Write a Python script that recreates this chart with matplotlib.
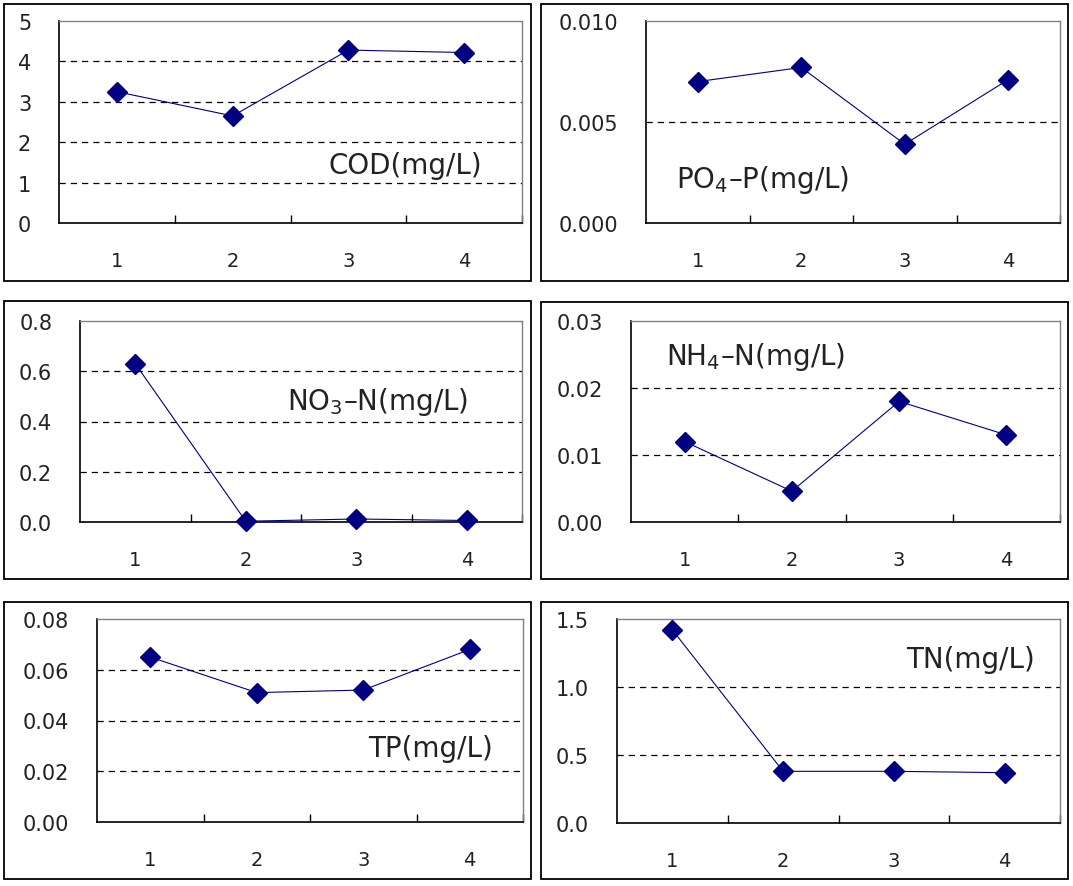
import matplotlib.pyplot as plt
from matplotlib.patches import Rectangle

plt.rcParams['font.family'] = ['DejaVu Sans']

# sampling stations
stations = [1, 2, 3, 4]

cod = [3.25, 2.65, 4.28, 4.22]
po4_p = [0.0070, 0.0077, 0.0039, 0.0071]
no3_n = [0.63, 0.003, 0.012, 0.006]
nh4_n = [0.012, 0.0046, 0.018, 0.013]
tp = [0.065, 0.051, 0.052, 0.068]
tn = [1.42, 0.38, 0.38, 0.37]

labels = ['COD(mg/L)', 'PO$_4$\u2013P(mg/L)', 'NO$_3$\u2013N(mg/L)',
          'NH$_4$\u2013N(mg/L)', 'TP(mg/L)', 'TN(mg/L)']

W, H = 1073, 887
fig = plt.figure(figsize=(W / 100, H / 100), dpi=100)


def px_rect(x0, y0, x1, y1):
    # pixel box (top-left origin) -> figure fraction [l, b, w, h]
    return [x0 / W, 1 - y1 / H, (x1 - x0) / W, (y1 - y0) / H]


def panel(frame, box, values, ymax, yticks, fmt, label, lpos):
    l, b, w, h = px_rect(*frame)
    fig.patches.append(Rectangle((l, b), w, h, transform=fig.transFigure,
                                 fill=False, edgecolor='black', linewidth=1.3))
    ax = fig.add_axes(px_rect(*box))
    ax.plot(stations, values, color='#000080', linewidth=0.8, marker='D',
            markersize=10, markerfacecolor='#000080', markeredgecolor='#000080',
            clip_on=False, zorder=3)
    ax.set_xlim(0.5, 4.5)
    ax.set_ylim(0, ymax)
    for yv in yticks[1:-1]:
        ax.axhline(yv, color='black', linestyle=(0, (5, 4)), linewidth=0.9, zorder=0)
    ax.set_yticks(yticks)
    ax.set_yticklabels([fmt.format(v) for v in yticks])
    ax.set_yticks([ymax], minor=True)
    ax.tick_params(axis='y', which='major', length=0, pad=20, labelsize=15,
                   labelcolor='#222222')
    ax.tick_params(axis='y', which='minor', length=5, width=1, direction='out')
    # category boundaries as ticks, labels at category centers
    ax.set_xticks([1.5, 2.5, 3.5, 4.5])
    ax.set_xticks(stations, minor=True)
    ax.set_xticklabels([])
    ax.set_xticklabels([str(s) for s in stations], minor=True)
    ax.tick_params(axis='x', which='major', direction='in', length=6, width=1)
    ax.tick_params(axis='x', which='minor', length=0, pad=20, labelsize=14,
                   labelcolor='#222222')
    for s in ['left', 'bottom']:
        ax.spines[s].set_color('black')
        ax.spines[s].set_linewidth(1.2)
    for s in ['top', 'right']:
        ax.spines[s].set_color('#808080')
        ax.spines[s].set_linewidth(1.0)
    fig.text(lpos[0] / W, 1 - lpos[1] / H, label, fontsize=20,
             color='#222222', ha='center', va='center')
    return ax


panel((4, 5, 531, 282), (59, 22, 522, 224), cod, 5, [0, 1, 2, 3, 4, 5],
      '{:.0f}', labels[0], (405, 166))
panel((541, 5, 1068, 282), (646, 22, 1060, 224), po4_p, 0.010,
      [0, 0.005, 0.010], '{:.3f}', labels[1], (763, 180))
panel((4, 302, 531, 580), (80, 322, 522, 523), no3_n, 0.8,
      [0, 0.2, 0.4, 0.6, 0.8], '{:.1f}', labels[2], (378, 402))
panel((541, 303, 1068, 580), (631, 322, 1060, 523), nh4_n, 0.03,
      [0, 0.01, 0.02, 0.03], '{:.2f}', labels[3], (756, 357))
panel((4, 603, 531, 880), (97, 620, 523, 823), tp, 0.08,
      [0, 0.02, 0.04, 0.06, 0.08], '{:.2f}', labels[4], (430, 749))
panel((541, 603, 1068, 880), (617, 620, 1060, 824), tn, 1.5,
      [0, 0.5, 1.0, 1.5], '{:.1f}', labels[5], (970, 660))

fig.savefig('out.png', dpi=100)
